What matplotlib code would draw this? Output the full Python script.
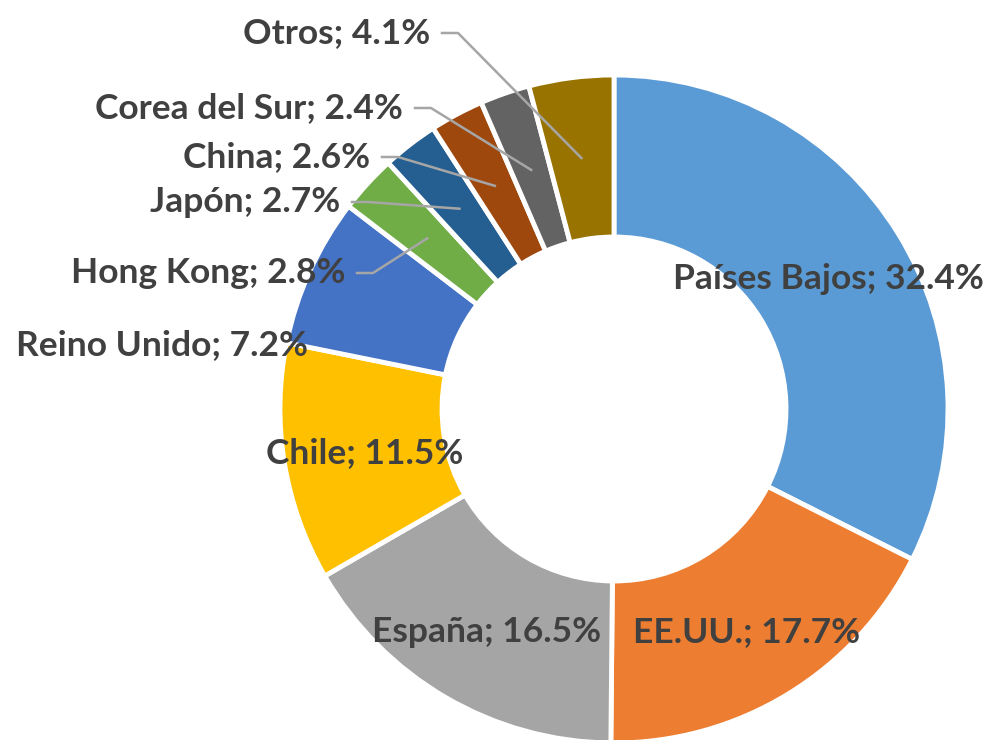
import numpy as np
import matplotlib.pyplot as plt

paises = ['Países Bajos', 'EE.UU.', 'España', 'Chile', 'Reino Unido',
          'Hong Kong', 'Japón', 'China', 'Corea del Sur', 'Otros']
valores = [32.4, 17.7, 16.5, 11.5, 7.2, 2.8, 2.7, 2.6, 2.4, 4.1]
colores = ['#5B9BD5', '#ED7D31', '#A5A5A5', '#FFC000', '#4472C4',
           '#70AD47', '#255E91', '#9E480E', '#636363', '#997300']

# label placement in pixels (x, y from top); 'c' = centred, 'r' = right edge + leader
pos_etiquetas = [(828, 279, 'c'), (747, 632, 'c'), (487, 632, 'c'), (365, 453, 'c'),
                 (162, 345, 'c'), (345, 273, 'r'), (340, 202, 'r'), (370, 157, 'r'),
                 (403, 108, 'r'), (430, 33, 'r')]

W, H = 997, 740
cx, cy = 614, 409
r_out, r_in = 334, 172

fig = plt.figure(figsize=(W / 100, H / 100), dpi=100)
ax = fig.add_axes([0, 0, 1, 1])

ax.pie(valores, colors=colores, startangle=90, counterclock=False,
       radius=r_out, center=(cx, H - cy),
       wedgeprops=dict(width=r_out - r_in, edgecolor='white', linewidth=3.5))
ax.set_xlim(0, W)
ax.set_ylim(0, H)
ax.set_aspect('equal')
ax.axis('off')

fuente = dict(family=['Lato', 'DejaVu Sans'], fontweight='bold', fontsize=25.5, color='#404040')
acum = np.cumsum([0] + valores[:-1])
total = sum(valores)
r_mid = (r_out + r_in) / 2

for nombre, v, a, (lx, ly, modo) in zip(paises, valores, acum, pos_etiquetas):
    texto = f'{nombre}; {v:.1f}%'
    if modo == 'c':
        ax.text(lx, H - ly, texto, ha='center', va='center', **fuente)
    else:
        ax.text(lx, H - ly, texto, ha='right', va='center', **fuente)
        ang = np.deg2rad(90 - 360 * (a + v / 2) / total)
        ex = cx + r_mid * np.cos(ang)
        ey = (H - cy) + r_mid * np.sin(ang)
        x0 = lx + 12
        ax.plot([x0, x0 + 16, ex], [H - ly, H - ly, ey], color='#A6A6A6', lw=1.8)

fig.savefig('out.png', dpi=100, facecolor='white')
